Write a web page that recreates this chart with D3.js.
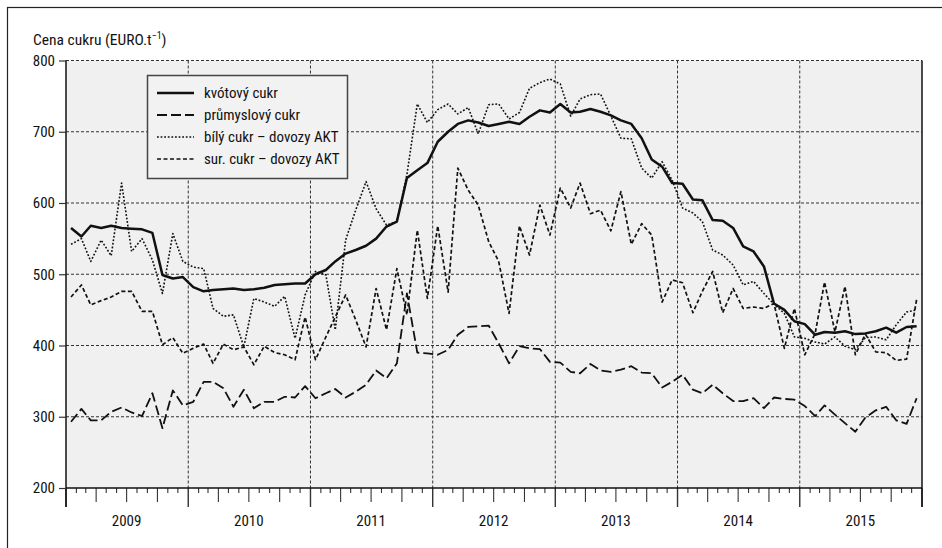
<!DOCTYPE html>
<html>
<head>
<meta charset="utf-8">
<script src="https://cdn.jsdelivr.net/npm/d3@7"></script>
<style>
  body { margin: 0; background: #fff; }
  svg text { font-family: "Liberation Sans Narrow", "Roboto Condensed", "DejaVu Sans Condensed", sans-serif; fill: #111; }
</style>
</head>
<body>
<div id="chart"></div>
<script>
// monthly prices EUR/t, Jan 2009 .. Dec 2015
const years = [2009, 2010, 2011, 2012, 2013, 2014, 2015];
const yTicks = [200, 300, 400, 500, 600, 700, 800];

const kvotovy = [565,553,568,565,568,565,564,563,558,499,494,496,
  482,476,478,479,480,478,479,481,485,486,487,487,
  500,506,518,529,534,540,550,567,574,635,646,656,
  686,700,711,716,713,708,711,714,711,721,730,727,
  739,727,728,732,728,723,716,711,691,661,651,628,
  627,605,604,576,575,565,539,532,511,459,450,434,
  430,415,419,418,420,416,417,420,425,418,426,427];

const prumyslovy = [293,311,295,295,307,313,306,301,333,284,337,316,
  321,349,349,340,314,338,312,321,321,328,327,343,
  326,333,339,327,335,345,365,354,375,473,390,389,
  387,394,415,426,427,428,403,375,399,396,395,377,
  376,363,361,374,365,363,366,371,362,361,341,349,
  359,338,333,345,333,322,322,326,312,327,325,324,
  315,301,316,303,291,279,299,309,314,295,290,326];

const bilyAKT = [542,550,518,548,526,628,532,550,520,473,557,518,
  510,508,452,441,443,398,466,461,455,469,410,471,
  504,499,422,548,590,630,592,569,574,640,739,713,
  731,739,725,734,697,738,739,718,727,761,769,774,
  767,722,746,752,753,722,691,690,649,635,658,632,
  593,586,574,534,527,513,485,490,473,458,445,412,
  410,405,402,412,399,394,411,412,408,429,447,450];

const surAKT = [468,485,457,463,468,476,476,448,448,401,411,389,
  396,402,375,402,394,398,373,399,390,387,380,440,
  380,412,440,471,436,398,480,422,508,443,562,466,
  568,475,649,618,597,546,518,445,568,527,597,555,
  621,593,628,585,590,561,616,542,571,555,461,492,
  488,446,476,504,446,480,452,454,452,459,396,452,
  387,417,489,419,483,387,416,391,390,379,381,465];

const series = [
  { name: 'kvótový cukr', values: kvotovy, width: 2.5, dash: null },
  { name: 'průmyslový cukr', values: prumyslovy, width: 1.8, dash: '10,4' },
  { name: 'bílý cukr – dovozy AKT', values: bilyAKT, width: 1.6, dash: '1.8,1.8' },
  { name: 'sur. cukr – dovozy AKT', values: surAKT, width: 1.7, dash: '4,2.5' }
];

const W = 942, H = 548;
const plotL = 66, plotR = 922, plotT = 60.5, plotB = 488;

const svg = d3.select('#chart').append('svg')
  .attr('width', W)
  .attr('height', H);

// outer frame
svg.append('rect')
  .attr('x', 7.5).attr('y', 7.5)
  .attr('width', 960).attr('height', 560)
  .attr('fill', 'none')
  .attr('stroke', '#222')
  .attr('stroke-width', 1.2);

const x = d3.scaleTime()
  .domain([new Date(2009, 0, 1), new Date(2016, 0, 1)])
  .range([plotL, plotR]);

const y = d3.scaleLinear()
  .domain([200, 800])
  .range([plotB, plotT]);

const monthDate = i => new Date(2009, i, 16);

svg.append('rect')
  .attr('x', plotL).attr('y', plotT)
  .attr('width', plotR - plotL).attr('height', plotB - plotT)
  .attr('fill', '#eff0ef');

// horizontal grid
svg.append('g')
  .selectAll('line')
  .data(yTicks.filter(d => d > 200))
  .join('line')
    .attr('x1', plotL).attr('x2', plotR)
    .attr('y1', d => y(d)).attr('y2', d => y(d))
    .attr('stroke', '#333')
    .attr('stroke-width', 1)
    .attr('stroke-dasharray', '3,2');

// vertical grid at year boundaries
const yearStarts = years.slice(1).map(yr => new Date(yr, 0, 1));
svg.append('g')
  .selectAll('line')
  .data(yearStarts)
  .join('line')
    .attr('x1', d => x(d)).attr('x2', d => x(d))
    .attr('y1', plotT).attr('y2', plotB)
    .attr('stroke', '#333')
    .attr('stroke-width', 1)
    .attr('stroke-dasharray', '3,2');

// x axis: monthly ticks, longer at quarters, longest at years
const months = d3.timeMonth.range(new Date(2009, 0, 1), new Date(2016, 0, 2));
svg.append('g')
  .selectAll('line')
  .data(months)
  .join('line')
    .attr('x1', d => x(d)).attr('x2', d => x(d))
    .attr('y1', plotB)
    .attr('y2', d => plotB + (d.getMonth() === 0 ? 19 : d.getMonth() % 3 === 0 ? 14 : 5))
    .attr('stroke', '#333')
    .attr('stroke-width', d => d.getMonth() === 0 ? 1.4 : 1.1);

svg.append('g')
  .selectAll('text')
  .data(years)
  .join('text')
    .attr('x', yr => x(new Date(yr, 6, 1)))
    .attr('y', 526)
    .attr('text-anchor', 'middle')
    .attr('font-size', 15)
    .text(d => d);

// axis lines
svg.append('line')
  .attr('x1', plotL).attr('x2', plotR)
  .attr('y1', plotB).attr('y2', plotB)
  .attr('stroke', '#111').attr('stroke-width', 1.5);
svg.append('line')
  .attr('x1', plotL).attr('x2', plotL)
  .attr('y1', plotT).attr('y2', plotB + 19)
  .attr('stroke', '#111').attr('stroke-width', 1.5);
svg.append('line')
  .attr('x1', plotR).attr('x2', plotR)
  .attr('y1', plotT).attr('y2', plotB + 19)
  .attr('stroke', '#111').attr('stroke-width', 1.5);

// y axis
const axisY = d3.axisLeft(y)
  .tickValues(yTicks)
  .tickSize(7)
  .tickPadding(4);
const gy = svg.append('g')
  .attr('transform', `translate(${plotL},0)`)
  .call(axisY);
gy.select('.domain').remove();
gy.selectAll('.tick line').attr('stroke', '#333').attr('stroke-width', 1.2);
gy.selectAll('.tick text')
  .attr('font-size', 15)
  .attr('fill', '#111')
  .attr('font-family', null);

// title
const title = svg.append('text')
  .attr('x', 33).attr('y', 45)
  .attr('font-size', 15.5);
title.append('tspan').text('Cena cukru (EURO.t');
title.append('tspan').attr('dy', -6).attr('font-size', 10).text('−1');
title.append('tspan').attr('dy', 6).text(')');

// lines
const line = d3.line()
  .x((d, i) => x(monthDate(i)))
  .y(d => y(d));

svg.append('g')
  .selectAll('path')
  .data(series.slice().reverse())
  .join('path')
    .attr('d', d => line(d.values))
    .attr('fill', 'none')
    .attr('stroke', '#111')
    .attr('stroke-width', d => d.width)
    .attr('stroke-dasharray', d => d.dash)
    .attr('stroke-linejoin', 'round');

// legend
const legend = svg.append('g');
legend.append('rect')
  .attr('x', 147.5).attr('y', 75.5)
  .attr('width', 200).attr('height', 103)
  .attr('fill', '#f1f2f1')
  .attr('stroke', '#444')
  .attr('stroke-width', 1.5);

const rows = legend.selectAll('g.row')
  .data(series)
  .join('g')
    .attr('class', 'row')
    .attr('transform', (d, i) => `translate(0, ${93 + i * 22})`);

rows.append('line')
  .attr('x1', 157).attr('x2', 194)
  .attr('y1', 0).attr('y2', 0)
  .attr('stroke', '#111')
  .attr('stroke-width', d => d.width)
  .attr('stroke-dasharray', d => d.dash);

rows.append('text')
  .attr('x', 204)
  .attr('y', 5)
  .attr('font-size', 15)
  .text(d => d.name);
</script>
</body>
</html>
